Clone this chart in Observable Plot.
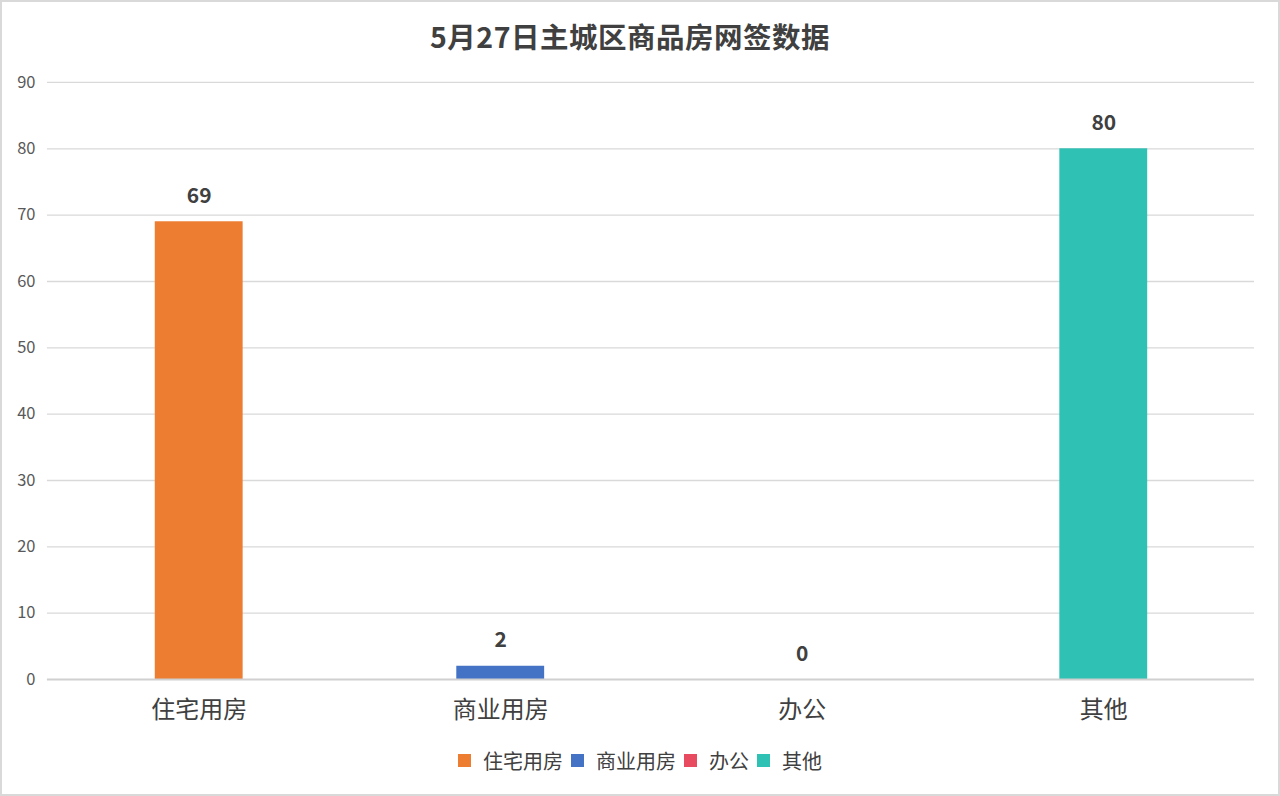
<!DOCTYPE html>
<html><head><meta charset="utf-8">
<script src="https://cdn.jsdelivr.net/npm/d3@7"></script>
<script src="https://cdn.jsdelivr.net/npm/@observablehq/plot@0.6"></script>
<style>
html,body{margin:0;padding:0;background:#fff;}
#frame{position:relative;width:1280px;height:796px;box-sizing:border-box;border:2px solid #d9d9d9;background:#fff;overflow:hidden;font-family:"Noto Sans CJK SC","Noto Sans",sans-serif;}
#title{position:absolute;left:0;top:14px;width:1256px;text-align:center;font-size:28.5px;font-weight:bold;color:#404040;line-height:40px;letter-spacing:0.5px;}
#chart{position:absolute;left:-2px;top:58px;}
#legend{position:absolute;left:0;top:744px;width:1276px;display:flex;justify-content:center;align-items:center;font-size:20px;color:#404040;}
.item{display:flex;align-items:center;margin:0 4px;}
.sw{width:13px;height:13px;margin-right:12px;}
</style></head>
<body>
<div id="frame">
<div id="title">5月27日主城区商品房网签数据</div>
<div id="chart"></div>
<div id="legend"></div>
</div>
<script>
const categories = ["住宅用房","商业用房","办公","其他"];
const values = [69, 2, 0, 80];
const colors = ["#ED7D31","#4472C4","#E84A5F","#2EC1B4"];
const yTicks = [0,10,20,30,40,50,60,70,80,90];

const data = categories.map((c,i)=>({cat:c, value:values[i]}));

const chart = Plot.plot({
  width: 1280,
  height: 682,
  marginTop: 22,
  marginBottom: 62,
  marginLeft: 47,
  marginRight: 24,
  style: {fontFamily: '"Noto Sans CJK SC","Noto Sans",sans-serif', background: "transparent"},
  x: {domain: categories, paddingInner: 0.71, paddingOuter: 0.355, label: null},
  y: {domain: [0, 90], ticks: yTicks, label: null},
  color: {domain: categories, range: colors},
  marks: [
    Plot.gridY(yTicks.filter(t=>t>0), {stroke: "#d9d9d9", strokeOpacity: 1, strokeWidth: 1.3}),
    Plot.axisY({ticks: yTicks, tickSize: 0, tickPadding: 12, fontSize: 16.5, fill: "#595959", label: null}),
    Plot.barY(data, {x: "cat", y: "value", fill: "cat"}),
    Plot.ruleY([0], {stroke: "#d0d0d0", strokeWidth: 2}),
    Plot.axisX({tickSize: 0, tickPadding: 21, fontSize: 24, fill: "#404040", label: null}),
    Plot.text(data, {x: "cat", y: "value", text: d => String(d.value), lineAnchor: "bottom", dy: -19, fontSize: 21, fontWeight: "bold", fill: "#404040"})
  ]
});
document.getElementById("chart").appendChild(chart);

const legend = document.getElementById("legend");
categories.forEach((c,i)=>{
  const it = document.createElement("div"); it.className="item";
  const sw = document.createElement("div"); sw.className="sw"; sw.style.background=colors[i];
  const tx = document.createElement("span"); tx.textContent=c;
  it.appendChild(sw); it.appendChild(tx); legend.appendChild(it);
});
</script>
</body></html>
